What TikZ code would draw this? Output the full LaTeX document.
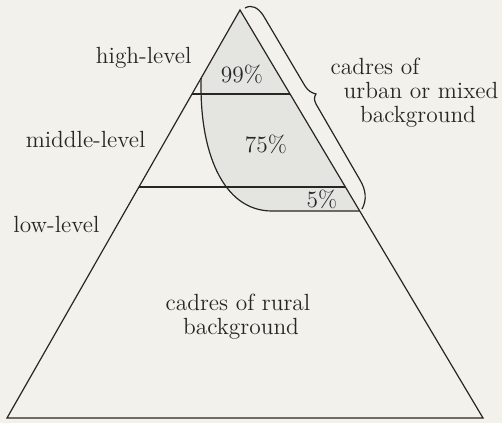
\documentclass[tikz,border=0pt]{standalone}
\usetikzlibrary{calc}
\definecolor{paper}{RGB}{243,241,235}
\definecolor{urbangray}{RGB}{228,228,225}
\definecolor{ink}{RGB}{40,38,36}
\begin{document}
\begin{tikzpicture}[x=0.5pt, y=-0.5pt, line width=0.6pt, draw=ink,
    txt/.style={inner sep=0pt, text=ink, font=\fontsize{11.7}{12}\selectfont}]
      \fill[paper] (0,0) rectangle (502,423);
      % pyramid corners
      \coordinate (apex) at (240,10);
      \coordinate (bl) at (7,418);
      \coordinate (br) at (483,418);
      % level lines on both sides
      \coordinate (hl) at ($(apex)!0.2059!(bl)$);
      \coordinate (hr) at ($(apex)!0.2059!(br)$);
      \coordinate (ml) at ($(apex)!0.4338!(bl)$);
      \coordinate (mr) at ($(apex)!0.4338!(br)$);
      \coordinate (cs) at ($(apex)!0.1667!(bl)$);
      \coordinate (ce) at ($(apex)!0.4926!(br)$);

      % share of urban cadres
      \fill[urbangray] (apex) -- (cs) .. controls (199,150) and (222,211) .. (272,211) -- (ce) -- cycle;
      \draw (cs) .. controls (199,150) and (222,211) .. (272,211) -- (ce);

      \draw (apex) -- (bl) -- (br) -- cycle;
      \draw (hl) -- (hr);
      \draw (ml) -- (mr);

      % brace on the right side
      \draw (245,8) .. controls (252,4) and (258,8) .. (263,15) -- (305,86)
        .. controls (308,91) and (312,93) .. (316,94)
        .. controls (314,97) and (314,100) .. (316,104) -- (360,180)
        .. controls (366,190) and (367,200) .. (362,209);

      \node[txt, anchor=base east] (high) at (192,63) {high-level};
      \node[txt, anchor=base east] (middle) at (146,147) {middle-level};
      \node[txt, anchor=base east] (low) at (100,232) {low-level};

      \node[txt, anchor=base] (p1) at (242,82) {99\%};
      \node[txt, anchor=base] (p2) at (266,152) {75\%};
      \node[txt, anchor=base] (p3) at (322,207) {5\%};

      \node[txt, anchor=base] (u1) at (375,74) {cadres of};
      \node[txt, anchor=base] (u2) at (421,98) {urban or mixed};
      \node[txt, anchor=base] (u3) at (418,122) {background};

      \node[txt, anchor=base] (r1) at (238,310) {cadres of rural};
      \node[txt, anchor=base] (r2) at (241,334) {background};
\end{tikzpicture}
\end{document}
